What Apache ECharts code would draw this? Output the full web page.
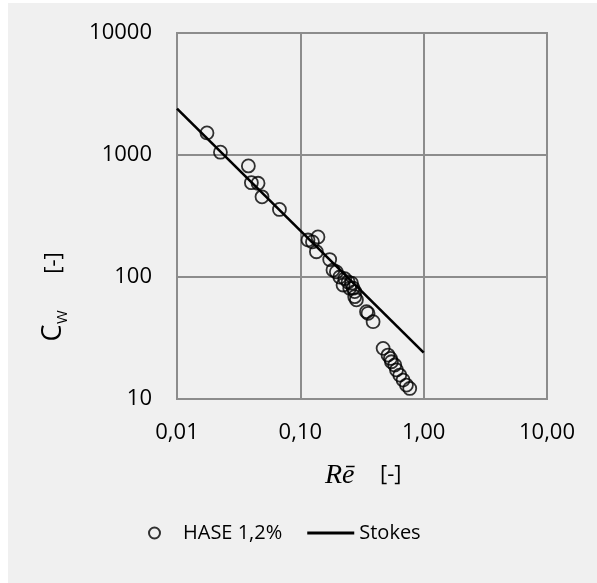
<!DOCTYPE html>
<html>
<head>
<meta charset="utf-8">
<title>Cw vs Re</title>
<script src="https://cdn.jsdelivr.net/npm/echarts@6/dist/echarts.min.js"></script>
<style>
  html, body { margin: 0; padding: 0; background: #ffffff; }
  #wrap { position: relative; width: 597px; height: 583px; overflow: hidden; }
  #bg { position: absolute; left: 8px; top: 3px; right: 0; bottom: 0; background: #f0f0f0; }
  #chart { position: absolute; left: 0; top: 0; width: 597px; height: 583px; }
</style>
</head>
<body>
<div id="wrap"><div id="bg"></div><div id="chart"></div></div>
<script>
// Measured drag coefficient against particle Reynolds number
const reHase = [
  0.0175, 0.0225, 0.0379, 0.0401, 0.0454, 0.0489, 0.0677,
  0.1154, 0.1254, 0.139, 0.135,
  0.173, 0.184, 0.196, 0.209, 0.229, 0.244, 0.260, 0.222, 0.268, 0.2516, 0.276,
  0.276, 0.285, 0.344, 0.354, 0.389,
  0.469, 0.514, 0.538, 0.548, 0.583, 0.602, 0.640, 0.681, 0.725, 0.771
];
const cwHase = [
  1517, 1054, 814, 593, 587, 454, 358,
  201, 194, 213, 161,
  139, 114, 110, 100, 97, 91, 89, 86, 81, 81, 76,
  69, 65, 52, 50.4, 43,
  26.0, 22.9, 21.5, 20.2, 19.0, 17.3, 15.7, 14.3, 13.0, 12.2
];
// Stokes law Cw = 24/Re, end points
const reStokes = [0.01, 1];
const cwStokes = [2400, 24];

const xTicks = ['0,01', '0,10', '1,00', '10,00'];
const yTicks = ['10', '100', '1000', '10000'];

const FONT = 'Open Sans';
const GRID_COLOR = '#8c8c8c';

function tickText(list, v) {
  const idx = Math.round(Math.log10(v)) - Math.round(Math.log10(Number(list[0].replace(',', '.'))));
  return list[idx] !== undefined ? list[idx] : '';
}

const chart = echarts.init(document.getElementById('chart'), null, { renderer: 'canvas' });

chart.setOption({
  backgroundColor: 'transparent',
  animation: false,
  grid: {
    left: 177, top: 33, width: 370, height: 366,
    show: true, borderColor: GRID_COLOR, borderWidth: 2, backgroundColor: 'transparent'
  },
  xAxis: {
    type: 'log', logBase: 10, min: 0.01, max: 10,
    axisLine: { show: true, lineStyle: { color: GRID_COLOR, width: 2 } },
    axisTick: { show: false },
    splitLine: { show: true, lineStyle: { color: GRID_COLOR, width: 2 } },
    axisLabel: {
      color: '#000', fontFamily: FONT, fontSize: 22, margin: 23,
      formatter: v => tickText(xTicks, v)
    }
  },
  yAxis: {
    type: 'log', logBase: 10, min: 10, max: 10000,
    axisLine: { show: true, lineStyle: { color: GRID_COLOR, width: 2 } },
    axisTick: { show: false },
    splitLine: { show: true, lineStyle: { color: GRID_COLOR, width: 2 } },
    axisLabel: {
      color: '#000', fontFamily: FONT, fontSize: 22, margin: 25,
      formatter: v => tickText(yTicks, v)
    }
  },
  legend: {
    left: 143, top: 518,
    itemWidth: 47, itemHeight: 11, itemGap: 25,
    textStyle: { color: '#000', fontFamily: FONT, fontSize: 20 },
    data: [
      { name: 'HASE 1,2%' },
      { name: 'Stokes', icon: 'path://M0 0H47V3H0Z' }
    ]
  },
  series: [
    {
      name: 'HASE 1,2%',
      type: 'scatter',
      symbol: 'circle',
      symbolSize: 13,
      itemStyle: { color: 'rgba(0,0,0,0)', borderColor: '#000', borderWidth: 1.8 },
      data: reHase.map((r, i) => [r, cwHase[i]]),
      z: 3
    },
    {
      name: 'Stokes',
      type: 'line',
      symbol: 'none',
      showSymbol: false,
      lineStyle: { color: '#000', width: 2.6 },
      itemStyle: { color: '#000' },
      data: reStokes.map((r, i) => [r, cwStokes[i]]),
      z: 4
    }
  ],
  graphic: [
    // x axis title
    {
      type: 'text', left: 325, top: 462,
      style: { text: 'Rē', fontFamily: 'Liberation Serif', fontStyle: 'italic', fontSize: 28, fill: '#000' }
    },
    {
      type: 'text', left: 380, top: 464,
      style: { text: '[-]', fontFamily: FONT, fontSize: 22, fill: '#000' }
    },
    // y axis title, rotated
    {
      type: 'text', x: 53, y: 333, rotation: Math.PI / 2,
      style: { text: 'C', fontFamily: FONT, fontSize: 27, fill: '#000', align: 'center', verticalAlign: 'middle' }
    },
    {
      type: 'text', x: 63, y: 317, rotation: Math.PI / 2,
      style: { text: 'W', fontFamily: FONT, fontSize: 15, fill: '#000', align: 'center', verticalAlign: 'middle' }
    },
    {
      type: 'text', x: 54, y: 263, rotation: Math.PI / 2,
      style: { text: '[-]', fontFamily: FONT, fontSize: 22, fill: '#000', align: 'center', verticalAlign: 'middle' }
    }
  ]
});
</script>
</body>
</html>
